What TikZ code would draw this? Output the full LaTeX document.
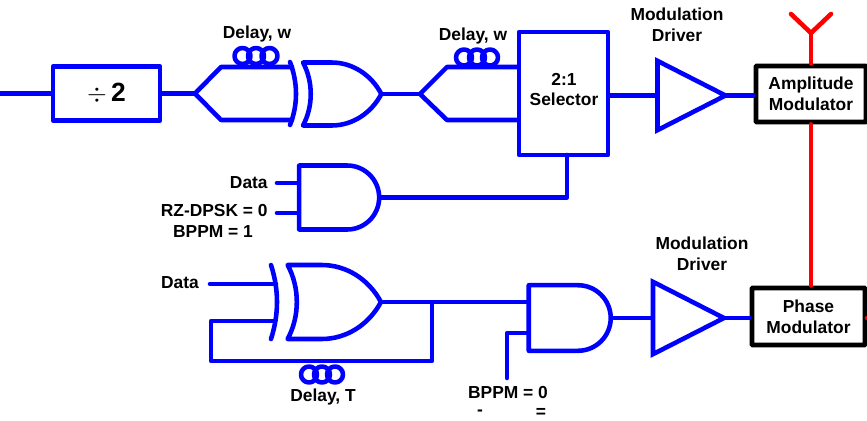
\documentclass[tikz,border=0pt]{standalone}
\usepackage{xcolor}
\usepackage{fontspec}
\setmainfont{Liberation Sans}
\usetikzlibrary{calc,positioning,shapes.geometric,shapes.gates.logic.US}

\begin{document}
\begin{tikzpicture}[
  x=0.02cm,y=-0.02cm,
  bluewire/.style={draw=blue,line width=2.6pt,line cap=round,line join=round},
  redwire/.style={draw=red,line width=2.6pt,line cap=round,line join=round},
  label/.style={font=\fontsize{9.9}{11.9}\selectfont\bfseries,align=center,inner sep=0pt},
  bluebox/.style={rectangle,bluewire,inner sep=0pt,label},
  modbox/.style={rectangle,draw=black,fill=white,line width=2.8pt,rounded corners=0.5pt,inner sep=0pt,label},
  driver/.style={isosceles triangle,isosceles triangle apex angle=54,draw=blue,line width=2.6pt,inner sep=0pt,anchor=apex},
  coil/.style={circle,bluewire,inner sep=0pt,minimum size=0.32cm},
  andgate/.style={and gate US,bluewire,logic gate inputs=nn,inner sep=0pt},
  orgate/.style={or gate US,bluewire,logic gate inputs=nn,inner sep=0pt,transform shape}
]
  \useasboundingbox (0,0) rectangle (867,420);

  % top row
  \coordinate (input) at (0,93.5);
  \node[bluebox,minimum width=2.14cm,minimum height=1.08cm,font=\fontsize{15}{17}\selectfont\bfseries] (divider) at (106.5,93.5) {$\div$\,2};
  \coordinate (splitA) at (195,93.5);
  \coordinate (splitAup) at (221,67);
  \coordinate (splitAdown) at (221,120);
  \coordinate (backAup) at (292,67);
  \coordinate (backAdown) at (292,120);
  \node[orgate,xscale=0.91,minimum width=1.44cm,minimum height=1.26cm] (xorA) at (336.5,94) {};
  \coordinate (splitB) at (420,94);
  \coordinate (splitBup) at (447,67);
  \coordinate (splitBdown) at (447,120);
  \node[bluebox,minimum width=1.78cm,minimum height=2.46cm] (selector) at (563.5,93.5) {};
  \coordinate (selectout) at (567,155);
  \node[driver,minimum height=1.36cm] (driverA) at (730.5,95.5) {};
  \node[modbox,minimum width=2.2cm,minimum height=1.12cm] (amplitude) at (811,94) {Amplitude\\Modulator};
  \node[modbox,minimum width=2.26cm,minimum height=1.14cm] (phase) at (808.5,316.5) {Phase\\Modulator};

  % antenna
  \coordinate (mast) at (811,33);
  \coordinate (armleft) at (791,14);
  \coordinate (armright) at (831,14);

  % middle and lower gates
  \node[andgate,minimum width=1.6cm,minimum height=1.22cm] (andA) at (336.5,197.5) {};
  \coordinate (dataA) at (277,183);
  \coordinate (rzdpsk) at (277,213);
  \node[orgate,xscale=0.923,minimum width=1.8cm,minimum height=1.48cm] (xorB) at (327.5,302) {};
  \coordinate (dataB) at (210,284);
  \coordinate (dataBend) at (276,284);
  \coordinate (loopend) at (275,321);
  \coordinate (loopA) at (211,321);
  \coordinate (loopB) at (211,361);
  \coordinate (loopC) at (432,361);
  \coordinate (loopD) at (432,302);
  \node[andgate,minimum width=1.64cm,minimum height=1.24cm] (andB) at (567,318) {};
  \coordinate (bppm) at (507,378);
  \coordinate (bppmknee) at (507,333);
  \node[driver,minimum height=1.42cm] (driverB) at (729,318) {};
  \coordinate (edge) at (867,318);

  % delay coils
  \foreach \i/\x in {1/242.5,2/256,3/269.5} \node[coil] (coilA\i) at (\x,56) {};
  \foreach \i/\x in {1/464,2/477,3/490} \node[coil] (coilB\i) at (\x,57.5) {};
  \foreach \i/\x in {1/309,2/322,3/335} \node[coil] (coilC\i) at (\x,374.5) {};

  % wires
  \draw[bluewire] (input) -- (divider.west);
  \draw[bluewire] (divider.east) -- (splitA);
  \draw[bluewire] (splitA) -- (splitAup) -- (backAup);
  \draw[bluewire] (splitA) -- (splitAdown) -- (backAdown);
  \draw[bluewire] (290,62) .. controls (298,83) and (298,105) .. (290,125);
  \draw[bluewire] (xorA.output) -- (splitB);
  \draw[bluewire] (splitB) -- (splitBup) -- (splitBup -| selector.west);
  \draw[bluewire] (splitB) -- (splitBdown) -- (splitBdown -| selector.west);
  \draw[bluewire] (selector.east |- driverA.west) -- (driverA.west);
  \draw[bluewire] ($(driverA.apex)+(-5,0)$) -- (amplitude.west |- driverA.apex);
  \draw[bluewire] (selectout) -- (selectout |- andA.output) -- (andA.output);
  \draw[bluewire] (dataA) -- (dataA -| andA.west);
  \draw[bluewire] (rzdpsk) -- (rzdpsk -| andA.west);
  \draw[bluewire] (271,265) .. controls (279,290) and (279,314) .. (271,339);
  \draw[bluewire] (dataB) -- (dataBend);
  \draw[bluewire] (loopend) -- (loopA) -- (loopB) -- (loopC) -- (loopD) -- (xorB.output);
  \draw[bluewire] (loopD) -- (loopD -| andB.west);
  \draw[bluewire] (bppm) -- (bppmknee) -- (bppmknee -| andB.west);
  \draw[bluewire] (andB.output) -- (driverB.west);
  \draw[bluewire] ($(driverB.apex)+(-5,0)$) -- (phase.west |- driverB.apex);

  \draw[redwire] (amplitude.north -| mast) -- (mast);
  \draw[redwire] (armleft) -- (mast) -- (armright);
  \draw[redwire] (amplitude.south -| mast) -- (phase.north -| mast);
  \draw[redwire] (phase.east |- edge) -- (edge);

  % labels
  \node[label] (selectortext) at (564,89.5) {2:1\\Selector};
  \node[label] (delayA) at (257,34) {Delay, w};
  \node[label] (delayB) at (473,36) {Delay, w};
  \node[label] (modA) at (677,25) {Modulation\\Driver};
  \node[label] (modB) at (702,254) {Modulation\\Driver};
  \node[label,anchor=east] (dataAtext) at (268,183) {Data};
  \node[label,anchor=east] (rztext) at (268,211) {RZ-DPSK = 0};
  \node[label] (bppmAtext) at (213,232) {BPPM = 1};
  \node[label] (dataBtext) at (180,283) {Data};
  \node[label] (delayC) at (323,397) {Delay, T};
  \node[label] (bppmBtext) at (508,393) {BPPM = 0};
  \node[label] (minus) at (480,413) {-};
  \node[label] (equals) at (541,413) {=};
\end{tikzpicture}
\end{document}
